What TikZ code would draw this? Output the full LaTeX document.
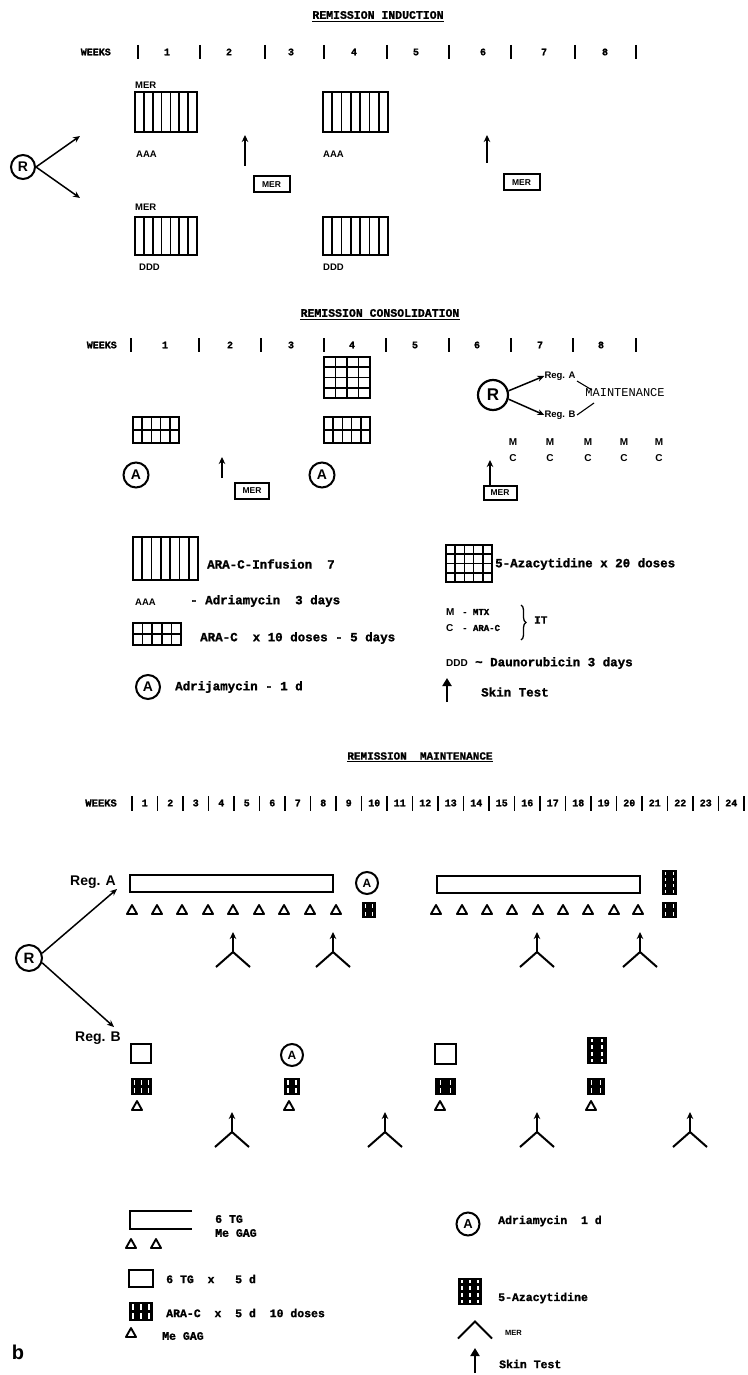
\documentclass[tikz,border=0pt]{standalone}
\usepackage{fontspec}
\setmainfont{Liberation Serif}
\setsansfont{Liberation Sans}
\setmonofont[BoldFeatures={FakeBold=1.3}]{Liberation Mono}
\usetikzlibrary{arrows.meta,decorations.pathreplacing,calc}

\newcommand\cellbox[6]{%
  \draw[line width=2pt] (#1,#2) rectangle (#3,#4);
  \ifnum#5>1
    \foreach \ci in {2,...,#5}{\draw[line width=1.6pt] ({#1+(\ci-1)*(#3-#1)/#5},#2) -- ({#1+(\ci-1)*(#3-#1)/#5},#4);}
  \fi
  \ifnum#6>1
    \foreach \cj in {2,...,#6}{\draw[line width=1.6pt] (#1,{#2+(\cj-1)*(#4-#2)/#6}) -- (#3,{#2+(\cj-1)*(#4-#2)/#6});}
  \fi}
\newcommand\darkbox[6]{%
  \fill (#1,#2) rectangle (#3,#4);
  \foreach \ci in {1,...,#5}{\foreach \cj in {1,...,#6}{%
    \fill[white] ({#1+(\ci-0.5)*(#3-#1)/#5-0.6},{#2+(\cj-1)*(#4-#2)/#6+1.6}) rectangle ({#1+(\ci-0.5)*(#3-#1)/#5+0.6},{#2+\cj*(#4-#2)/#6-1.6});}}}

\begin{document}
\begin{tikzpicture}[x=1pt,y=-1pt,
 ttx/.style={font=\ttfamily\bfseries\fontsize{#1}{#1}\selectfont,inner sep=0pt},
 ttx/.default=12.5,
 ttr/.style={font=\ttfamily\fontsize{#1}{#1}\selectfont,inner sep=0pt},
 sfb/.style={font=\sffamily\bfseries\fontsize{#1}{#1}\selectfont,inner sep=0pt},
 sfb/.default=9.5,
 circA/.style={circle,draw,line width=2pt,inner sep=0pt,minimum size=#1},
 merbox/.style={draw,line width=2pt,sfb=8.5,minimum width=#1,minimum height=16pt},
 merbox/.default=36pt,
 sk/.style={line width=1.8pt,-{Stealth[length=7pt,width=6.5pt]}},
 arr/.style={line width=1.5pt,-{Stealth[length=7pt,width=6pt]}},
 wkbar/.style={line width=2pt},
 tri/.pic={\draw[line width=1.9pt,line join=round] (-5,4) -- (0,-5) -- (5,4) -- cycle;},
 yshp/.pic={\draw[line width=2pt] (-17,15) -- (0,0) -- (17,15); \draw[sk] (0,0) -- (0,-20);},
 vee/.pic={\draw[line width=2pt] (-17,8.5) -- (0,-8.5) -- (17,8.5);}
]
\useasboundingbox (0,0) rectangle (747,1375);

% ================= REMISSION INDUCTION =================
\node[ttx=11.5] (tI) at (378,15) {REMISSION INDUCTION};
\draw[line width=1.1pt] ([yshift=-2pt]tI.south west) -- ([yshift=-2pt]tI.south east);
\node[ttx=10,anchor=east] (wI) at (111,52) {WEEKS};
\foreach \x in {138,200,265,324,387,449,511,575,636}{\draw[wkbar] (\x,45) -- (\x,59);}
\foreach \x/\n in {167/1,229/2,291/3,354/4,416/5,483/6,544/7,605/8}{\node[ttx=10] (wI\n) at (\x,52) {\n};}

\node[circle,draw,line width=2pt,minimum size=24pt,sfb=14] (RI) at (23,167) {R};
\coordinate (RIa) at (80,136);
\coordinate (RIb) at (80,198);
\draw[arr] (RI.east) -- (RIa);
\draw[arr] (RI.east) -- (RIb);

\node[sfb,anchor=west] (merI1) at (135,85) {MER};
\cellbox{135}{92}{197}{132}{7}{1}
\node[sfb,anchor=west] (aaaI1) at (136,154) {AAA};
\draw[sk] (245,166) -- (245,135);
\node[merbox] (mbI1) at (271.5,184.5) {MER};
\cellbox{323}{92}{388}{132}{7}{1}
\node[sfb,anchor=west] (aaaI2) at (323,154) {AAA};
\draw[sk] (487,163) -- (487,135);
\node[merbox] (mbI2) at (521.5,182.5) {MER};
\node[sfb,anchor=west] (merI2) at (135,207) {MER};
\cellbox{135}{217}{197}{255}{7}{1}
\node[sfb,anchor=west] (dddI1) at (139,267) {DDD};
\cellbox{323}{217}{388}{255}{7}{1}
\node[sfb,anchor=west] (dddI2) at (323,267) {DDD};

% ================= REMISSION CONSOLIDATION =================
\node[ttx=11.5] (tC) at (380,313) {REMISSION CONSOLIDATION};
\draw[line width=1.1pt] ([yshift=-2pt]tC.south west) -- ([yshift=-2pt]tC.south east);
\node[ttx=10,anchor=east] (wC) at (117,345) {WEEKS};
\foreach \x in {131,199,261,324,386,449,511,573,636}{\draw[wkbar] (\x,338) -- (\x,352);}
\foreach \x/\n in {165/1,230/2,291/3,352/4,415/5,477/6,540/7,601/8}{\node[ttx=10] (wC\n) at (\x,345) {\n};}

\cellbox{324}{357}{370}{398}{4}{4}
\cellbox{133}{417}{179}{443}{5}{2}
\cellbox{324}{417}{370}{443}{5}{2}
\node[circA=25pt,sfb=14] (aC1) at (136,475) {A};
\node[circA=25pt,sfb=14] (aC2) at (322,475) {A};
\draw[sk] (222,478) -- (222,457);
\node[merbox=34pt] (mbC1) at (252,491) {MER};

\node[circle,draw,line width=2.2pt,minimum size=30pt,sfb=17] (RC) at (493,395) {R};
\node[sfb=9.5] (rgA) at (560,376) {Reg. A};
\node[sfb=9.5] (rgB) at (560,415) {Reg. B};
\draw[arr] (RC.15) -- (rgA.west);
\draw[arr] (RC.-15) -- (rgB.west);
\node[ttr=12] (mt) at (625,393) {MAINTENANCE};
\coordinate (sA1) at (577,381); \coordinate (sA2) at (592,390);
\coordinate (sB1) at (577,415); \coordinate (sB2) at (594,403);
\draw[line width=1.1pt] (sA1) -- (sA2);
\draw[line width=1.1pt] (sB1) -- (sB2);
\foreach \x [count=\k] in {513,550,588,624,659}{
  \node[sfb=10] (cM\k) at (\x,442) {M};
  \node[sfb=10] (cC\k) at (\x,458) {C};}
\draw[sk] (490,485) -- (490,460);
\node[merbox=33pt,minimum height=14pt] (mbC2) at (500,493) {MER};

% ================= LEGEND 1 =================
\cellbox{133}{537}{198}{580}{7}{1}
\node[ttx=12.5,anchor=west] (L1) at (207,564) {ARA-C-Infusion~~7};
\node[sfb,anchor=west] (aaaL) at (135,602) {AAA};
\node[ttx=12.5,anchor=west] (L2) at (190,601) {- Adriamycin~~3 days};
\cellbox{133}{623}{181}{645}{5}{2}
\node[ttx=12.5,anchor=west] (L3) at (200,638) {ARA-C~~x 10 doses - 5 days};
\node[circA=24pt,sfb=14] (aL) at (148,687) {A};
\node[ttx=12.5,anchor=west] (L4) at (175,687) {Adrijamycin - 1 d};

\cellbox{446}{545}{492}{582}{5}{4}
\node[ttx=12.5,anchor=west] (L5) at (495,564) {5-Azacytidine x 20 doses};
\node[sfb=10,anchor=west] (LM) at (446,612) {M};
\node[ttx=9,anchor=west] (LMt) at (462,612) {- MTX};
\node[sfb=10,anchor=west] (LC) at (446,628) {C};
\node[ttx=9,anchor=west] (LCt) at (462,628) {- ARA-C};
\draw[decorate,decoration={brace,amplitude=5pt},line width=1.3pt] (521,605) -- (521,640);
\node[ttx=11,anchor=west] (LIT) at (534,620) {IT};
\node[sfb=10,anchor=west] (LD) at (446,663) {DDD};
\node[ttx=12.5,anchor=west] (LDt) at (475,663) {\textasciitilde{} Daunorubicin 3 days};
\draw[line width=2.6pt,-{Triangle[length=8pt,width=9pt]}] (447,702) -- (447,678);
\node[ttx=12.5,anchor=west] (Lsk) at (481,692) {Skin Test};

% ================= REMISSION MAINTENANCE =================
\node[ttx=11] (tM) at (420,756) {REMISSION~~MAINTENANCE};
\draw[line width=1.1pt] ([yshift=-2pt]tM.south west) -- ([yshift=-2pt]tM.south east);
\node[ttx=10.5,anchor=east] (wM) at (117,803) {WEEKS};
\foreach \i in {0,...,24}{\draw[line width=1.7pt] ({132+25.5*\i},796) -- ({132+25.5*\i},811);}
\foreach \i in {1,...,24}{\node[ttx=10] (wM\i) at ({132+25.5*\i-12.75},803) {\i};}

% Reg. A
\node[sfb=14] (regA) at (93,882) {Reg. A};
\draw[line width=2pt] (130,875) rectangle (333,892);
\node[circA=22pt,sfb=12] (aM1) at (367,883) {A};
\draw[line width=2pt] (437,876) rectangle (640,893);
\darkbox{662}{870}{677}{895}{2}{4}
\foreach \x in {132,157,182,208,233,259,284,310,336,436,462,487,512,538,563,588,614,638}{\pic at (\x,910) {tri};}
\darkbox{362}{902}{376}{918}{2}{2}
\darkbox{662}{902}{677}{918}{2}{2}
\foreach \x in {233,333,537,640}{\pic at (\x,952) {yshp};}

\node[circle,draw,line width=2pt,minimum size=26pt,sfb=15] (RM) at (29,958) {R};
\coordinate (tipA) at (117,889);
\coordinate (tipB) at (114,1027);
\draw[arr] (RM.20) -- (tipA);
\draw[arr] (RM.-20) -- (tipB);

% Reg. B
\node[sfb=14] (regB) at (98,1038) {Reg. B};
\draw[line width=2pt] (131,1044) rectangle (151,1063);
\node[circA=22pt,sfb=12] (aM2) at (292,1055) {A};
\draw[line width=2pt] (435,1044) rectangle (456,1064);
\darkbox{587}{1037}{607}{1064}{2}{4}
\darkbox{131}{1078}{152}{1095}{3}{2}
\darkbox{284}{1078}{300}{1095}{2}{2}
\darkbox{435}{1078}{456}{1095}{2}{2}
\darkbox{587}{1078}{605}{1095}{2}{2}
\foreach \x in {137,289,440,591}{\pic at (\x,1106) {tri};}
\foreach \x in {232,385,537,690}{\pic at (\x,1132) {yshp};}

% ================= LEGEND 2 =================
\draw[line width=2pt] (192,1211) -- (130,1211) -- (130,1229) -- (192,1229);
\node[ttx=11.5,anchor=west] (M1) at (215,1219) {6 TG};
\node[ttx=11.5,anchor=west] (M2) at (215,1233) {Me GAG};
\pic at (131,1244) {tri};
\pic at (156,1244) {tri};
\draw[line width=2pt] (129,1270) rectangle (153,1287);
\node[ttx=11.5,anchor=west] (M3) at (166,1279) {6 TG~~x~~~5 d};
\darkbox{129}{1302}{153}{1321}{3}{2}
\node[ttx=11.5,anchor=west] (M4) at (166,1313) {ARA-C~~x~~5 d~~10 doses};
\pic at (131,1333) {tri};
\node[ttx=11.5,anchor=west] (M5) at (162,1336) {Me GAG};

\node[circA=23pt,sfb=13] (aL2) at (468,1224) {A};
\node[ttx=11.5,anchor=west] (M6) at (498,1221) {Adriamycin~~1 d};
\darkbox{458}{1278}{482}{1305}{3}{4}
\node[ttx=11.5,anchor=west] (M7) at (498,1298) {5-Azacytidine};
\pic at (475,1330) {vee};
\node[sfb=7.5,anchor=west] (M8) at (505,1333) {MER};
\draw[line width=2.8pt,-{Triangle[length=8pt,width=9pt]}] (475,1373) -- (475,1348);
\node[ttx=11.5,anchor=west] (M9) at (499,1364) {Skin Test};

\node[sfb=20] (bl) at (18,1352) {b};
\end{tikzpicture}
\end{document}
